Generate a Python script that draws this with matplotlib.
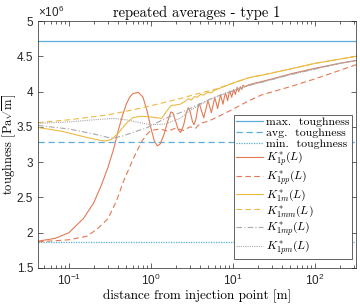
import numpy as np
import matplotlib
matplotlib.use("Agg")
from matplotlib import pyplot as plt
from matplotlib.ticker import LogLocator, NullFormatter

# toughness levels (x1e6 Pa sqrt(m))
k_max = 4.71
k_avg = 3.28
k_min = 1.865

# K*_1p (solid red)
x_p = [0.042, 0.068, 0.1, 0.15, 0.2, 0.25, 0.3, 0.35, 0.4, 0.45, 0.5, 0.55,
       0.6, 0.7, 0.8, 0.9, 1.0, 1.1, 1.2, 1.3, 1.45, 1.6, 1.75, 1.85, 2.0,
       2.15, 2.3, 2.5, 2.7, 2.85, 3.0, 3.2, 3.35, 3.55, 3.75, 3.9, 4.1, 4.4,
       4.7, 4.95, 5.2, 5.45, 5.75, 6.0, 6.25, 6.5, 6.8, 7.05, 7.3, 7.55, 7.85,
       8.1, 8.35, 8.6, 8.9, 9.15, 9.4, 9.65, 10.2, 10.7, 11.25, 11.75, 12.3,
       12.8, 13.3, 14, 16, 22, 30, 50, 100, 200, 316]
k_p = [1.88, 1.92, 2.0, 2.20, 2.42, 2.68, 2.93, 3.18, 3.45, 3.66, 3.82, 3.92,
       3.97, 3.99, 3.92, 3.72, 3.48, 3.30, 3.23, 3.26, 3.40, 3.58, 3.71, 3.70,
       3.58, 3.46, 3.42, 3.52, 3.70, 3.77, 3.72, 3.58, 3.53, 3.62, 3.78, 3.83,
       3.74, 3.63, 3.76, 3.87, 3.79, 3.70, 3.82, 3.91, 3.84, 3.76, 3.87, 3.95,
       3.89, 3.82, 3.92, 3.98, 3.93, 3.87, 3.96, 4.01, 3.96, 3.92, 4.03, 3.96,
       4.06, 4.00, 4.07, 4.03, 4.09, 4.07, 4.10, 4.14, 4.18, 4.25, 4.33, 4.40,
       4.44]

# K*_1pp (dashed red)
x_pp = [0.042, 0.1, 0.166, 0.22, 0.3, 0.38, 0.46, 0.55, 0.65, 0.78, 0.9, 1.0,
        1.3, 1.6, 2.0, 2.5, 3.0, 3.5, 4.0, 5, 7, 10, 15, 22, 50, 100, 200, 316]
k_pp = [1.87, 1.90, 1.95, 2.05, 2.20, 2.45, 2.72, 2.93, 3.12, 3.30, 3.40, 3.45,
        3.47, 3.44, 3.48, 3.45, 3.50, 3.48, 3.55, 3.58, 3.66, 3.75, 3.86, 3.95,
        4.07, 4.18, 4.30, 4.38]

# K*_1m (solid yellow)
x_m = [0.042, 0.08, 0.12, 0.18, 0.24, 0.28, 0.33, 0.4, 0.5, 0.6, 0.75, 1.0,
       1.35, 1.55, 1.75, 2.26, 2.6, 2.85, 3.1, 3.4, 3.7, 4.0, 4.4, 4.9, 5.4,
       6, 10, 16, 22, 50, 100, 316]
k_m = [3.49, 3.44, 3.39, 3.34, 3.31, 3.30, 3.32, 3.41, 3.55, 3.63, 3.65, 3.64,
       3.62, 3.72, 3.80, 3.82, 3.86, 3.90, 3.88, 3.93, 3.92, 3.96, 3.95, 3.99,
       3.98, 4.02, 4.12, 4.20, 4.23, 4.32, 4.40, 4.50]

# K*_1mm (dashed yellow)
x_mm = [0.042, 0.1, 0.3, 0.6, 1.0, 1.5, 2.26, 3, 4, 6, 10, 16, 22, 50, 100, 316]
k_mm = [3.56, 3.60, 3.67, 3.74, 3.80, 3.85, 3.90, 3.94, 3.98, 4.03, 4.12, 4.20,
        4.23, 4.32, 4.40, 4.50]

# K*_1mp (dash-dot gray)
x_mp = [0.042, 0.1, 0.2, 0.3, 0.35, 0.45, 0.6, 0.9, 1.5, 2.26, 3.0, 5.0, 7.0,
        10, 16, 22, 50, 100, 200, 316]
k_mp = [3.52, 3.47, 3.40, 3.35, 3.34, 3.37, 3.42, 3.49, 3.62, 3.70, 3.76, 3.88,
        3.95, 4.01, 4.09, 4.13, 4.24, 4.32, 4.40, 4.44]

# K*_1pm (dotted gray)
x_pm = [0.042, 0.1, 0.2, 0.35, 0.5, 0.8, 1.0, 1.5, 2.26, 3.0, 5.0, 7.0, 10, 16,
        22, 50, 100, 200, 316]
k_pm = [3.55, 3.57, 3.60, 3.62, 3.60, 3.55, 3.53, 3.54, 3.62, 3.73, 3.88, 3.95,
        4.01, 4.09, 4.13, 4.24, 4.32, 4.40, 4.44]

c_blue = '#5AAEDC'
c_red = '#E37A54'
c_yel = '#EEB944'
c_gray = '#A8A8A8'

plt.rcParams['mathtext.fontset'] = 'custom'
plt.rcParams['mathtext.rm'] = 'Liberation Sans'
plt.rcParams['mathtext.it'] = 'Liberation Sans:italic'
plt.rcParams['font.family'] = 'Liberation Sans'

fig = plt.figure(figsize=(3.6, 3.06), dpi=100)
ax = fig.add_axes([38 / 360, 38 / 306, 318 / 360, 247 / 306])

xlim = (0.042, 316)
ax.plot(xlim, [k_max, k_max], color=c_blue, lw=0.9, label='max.  toughness')
ax.plot(xlim, [k_avg, k_avg], color=c_blue, lw=0.9, ls=(0, (5, 3)), label='avg.  toughness')
ax.plot(xlim, [k_min, k_min], color=c_blue, lw=0.9, ls=(0, (1, 1)), label='min.  toughness')
ax.plot(x_p, k_p, color=c_red, lw=0.8, label=r'$K^*_{1p}(L)$')
ax.plot(x_pp, k_pp, color=c_red, lw=0.8, ls=(0, (5, 3)), label=r'$K^*_{1pp}(L)$')
ax.plot(x_m, k_m, color=c_yel, lw=0.8, label=r'$K^*_{1m}(L)$')
ax.plot(x_mm, k_mm, color=c_yel, lw=0.8, ls=(0, (5, 3)), label=r'$K^*_{1mm}(L)$')
ax.plot(x_mp, k_mp, color=c_gray, lw=0.8, ls=(0, (5, 2, 1, 2)), label=r'$K^*_{1mp}(L)$')
ax.plot(x_pm, k_pm, color=c_gray, lw=0.8, ls=(0, (1, 1)), label=r'$K^*_{1pm}(L)$')

ax.set_xscale('log')
ax.set_xlim(*xlim)
ax.set_ylim(1.5, 5)
ax.set_xticks([0.1, 1, 10, 100])
ax.xaxis.set_minor_locator(LogLocator(base=10, subs=np.arange(2, 10)))
ax.xaxis.set_minor_formatter(NullFormatter())
ax.set_yticks([1.5, 2, 2.5, 3, 3.5, 4, 4.5, 5])
ax.set_yticklabels(['1.5', '2', '2.5', '3', '3.5', '4', '4.5', '5'])
ax.tick_params(which='both', direction='in', top=True, right=True,
               labelsize=8.5, colors='#262626', width=0.5)
ax.tick_params(which='major', length=3.5)
ax.tick_params(which='minor', length=2)
for s in ax.spines.values():
    s.set_color('#262626')
    s.set_linewidth(0.5)

ax.text(0.0, 1.005, r'$\times10^{6}$', transform=ax.transAxes, fontsize=8.5,
        color='#262626', va='bottom', ha='left')
ax.set_title('repeated averages - type 1', fontsize=10.5, family='cmr10', pad=3)
ax.set_xlabel('distance from injection point [m]', fontsize=9.5, family='cmr10',
              labelpad=1)
ax.set_ylabel(r'toughness $[\mathrm{Pa}\sqrt{\mathrm{m}}]$', fontsize=9,
              family='cmr10', math_fontfamily='cm', labelpad=0)
ax.yaxis.set_label_coords(-0.062, 0.5)

leg = ax.legend(loc='lower right', bbox_to_anchor=(0.987, 0.036),
                prop={'family': 'cmr10', 'size': 8.5},
                frameon=True, fancybox=False, framealpha=1, edgecolor='#262626',
                handlelength=2.3, handletextpad=0.25, labelspacing=0.04,
                borderpad=0.2, borderaxespad=0)
leg.get_frame().set_linewidth(0.5)
for t in leg.get_texts():
    t.set_math_fontfamily('cm')

fig.savefig('out.png', dpi=100)
